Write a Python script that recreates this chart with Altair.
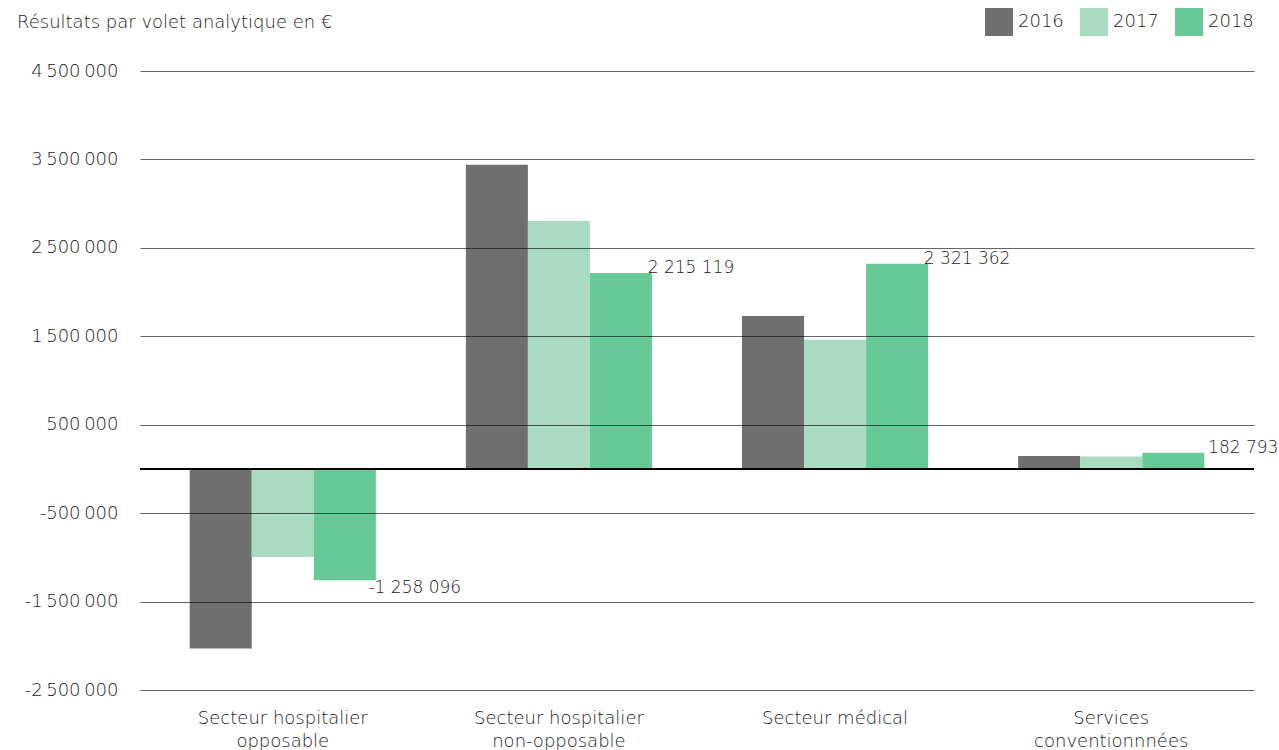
import altair as alt
import pandas as pd

categories = ["Secteur hospitalier|opposable", "Secteur hospitalier|non-opposable",
              "Secteur médical", "Services|conventionnnées"]
years = ["2016", "2017", "2018"]
v2016 = [-2030000, 3440000, 1730000, 145000]
v2017 = [-995000, 2805000, 1460000, 140000]
v2018 = [-1258096, 2215119, 2321362, 182793]
y_ticks = [4500000, 3500000, 2500000, 1500000, 500000, -500000, -1500000, -2500000]
colors = ["#6f6f6f", "#a8dbc1", "#67c998"]

rows = []
for i, c in enumerate(categories):
    for y, vals in zip(years, [v2016, v2017, v2018]):
        lab = ""
        if y == "2018":
            lab = f"{vals[i]:,}".replace(",", " ")
        rows.append({"cat": c, "year": y, "value": vals[i], "label": lab})
df = pd.DataFrame(rows)

FONT = "DejaVu Sans"
FS = 18
FSN = 17
TXT = "#1a1a1a"

base = alt.Chart(df)

x_enc = alt.X("cat:N", sort=categories, title=None,
              scale=alt.Scale(paddingInner=0.326, paddingOuter=0.18),
              axis=alt.Axis(labelAngle=0, labelFontSize=FS, labelColor=TXT, labelFont=FONT,
                            labelFontWeight=300,
                            labelExpr="split(datum.label, '|')", labelLineHeight=23,
                            labelPadding=19, ticks=False, domain=False, grid=False))
y_enc = alt.Y("value:Q", title=None,
              scale=alt.Scale(domain=[-2500000, 4500000], nice=False, zero=False),
              axis=alt.Axis(values=y_ticks,
                            labelExpr="replace(replace(format(datum.value, ','), regexp(',', 'g'), '\u2009'), '\u2212', '-')",
                            labelFontSize=FS, labelColor=TXT, labelFontWeight=300,
                            labelFont=FONT, labelPadding=22, ticks=False, domain=False,
                            grid=True, gridColor="#000000", gridOpacity=0.6, gridWidth=1,
                            zindex=1))

bars = base.mark_bar().encode(
    x=x_enc,
    xOffset=alt.XOffset("year:N", sort=years),
    y=y_enc,
    color=alt.Color("year:N", sort=years,
                    scale=alt.Scale(domain=years, range=colors),
                    legend=alt.Legend(title=None, orient="none", legendX=845, legendY=-63,
                                      direction="horizontal", symbolType="square",
                                      symbolSize=784, symbolStrokeWidth=0,
                                      labelFontSize=FS, labelColor=TXT, labelFont=FONT,
                                      labelFontWeight=300,
                                      labelOffset=5, columnPadding=16)),
)

zero = base.mark_rule(color="#000000", strokeWidth=2).encode(y=alt.datum(0))

pos_labels = base.transform_filter("datum.label != '' && datum.value >= 0").mark_text(
    align="center", baseline="alphabetic", dx=70, fontSize=FSN, font=FONT, color=TXT,
    fontWeight=300
).encode(x=alt.X("cat:N", sort=categories), xOffset=alt.XOffset("year:N", sort=years),
         y="value:Q", text="label:N")

neg_labels = base.transform_filter("datum.label != '' && datum.value < 0").mark_text(
    align="center", baseline="top", dx=70, fontSize=FSN, font=FONT, color=TXT,
    fontWeight=300
).encode(x=alt.X("cat:N", sort=categories), xOffset=alt.XOffset("year:N", sort=years),
         y="value:Q", text="label:N")

chart = alt.layer(bars, zero, pos_labels, neg_labels).properties(
    width=1114, height=619,
    autosize=alt.AutoSizeParams(type="none"),
    padding={"left": 140, "top": 71, "right": 25, "bottom": 60},
    title=alt.TitleParams("Résultats par volet analytique en €", anchor="start",
                          fontSize=FS, font=FONT, fontWeight=300, color=TXT,
                          dx=-123, offset=0, dy=24, frame="group"),
).configure_view(stroke=None)

chart.save("out.html", embed_options={"renderer": "svg", "actions": False})
